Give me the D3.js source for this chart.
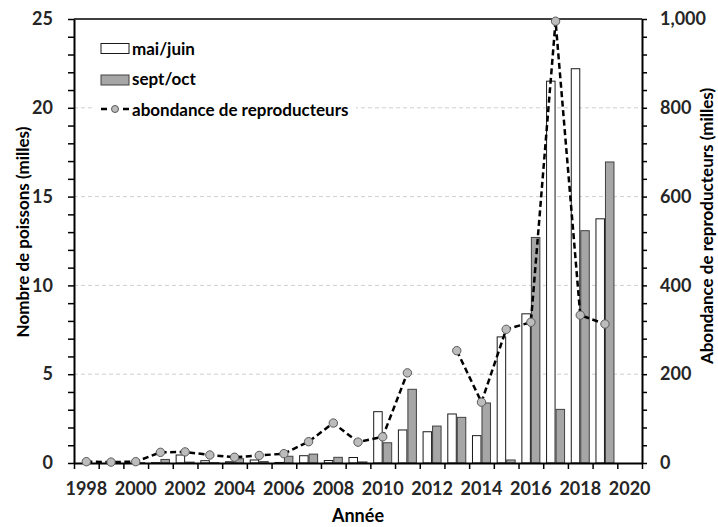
<!DOCTYPE html>
<html>
<head>
<meta charset="utf-8">
<script src="https://cdn.jsdelivr.net/npm/d3@7"></script>
<style>
  html, body { margin: 0; padding: 0; background: #fff; }
  svg { display: block; font-family: Lato, 'Open Sans', sans-serif; font-weight: bold; }
</style>
</head>
<body>
<svg id="chart" width="718" height="527"></svg>
<script>
(function (d3) {
  'use strict';

  // categories (2020 is an empty slot on the axis)
  var years = d3.range(1998, 2021);
  var seriesNames = ['mai/juin', 'sept/oct', 'abondance de reproducteurs'];

  // thousands of fish, 1998..2019
  var maiJuin = [0, 0, 0, 0.02, 0.45, 0.13, 0.07, 0.17, 0.03, 0.41, 0.14, 0.31,
    2.89, 1.86, 1.76, 2.76, 1.54, 7.1, 8.4, 21.5, 22.2, 13.75];
  var septOct = [0, 0.02, 0.02, 0.2, 0.05, 0.02, 0.24, 0.08, 0.38, 0.5, 0.32, 0.06,
    1.14, 4.15, 2.08, 2.57, 3.38, 0.17, 12.7, 3.02, 13.08, 16.95];
  // spawner abundance (thousands), right axis; 2012 missing
  var reproducteurs = [3, 2, 3, 24, 25, 18, 13, 17, 21, 48, 90, 47,
    59, 203, null, 253, 137, 301, 317, 995, 333, 313];

  var leftTicks = [0, 5, 10, 15, 20, 25];
  var rightTicks = [0, 200, 400, 600, 800, 1000];
  var labelYears = years.filter(function (y) { return y % 2 === 0; });

  var svg = d3.select('#chart'),
    left = 74,
    right = 642,
    top = 19,
    bottom = 463,
    tickFont = 18,
    titleFont = 17;

  var x = d3.scaleBand().domain(years).range([left, right]).padding(0),
    xInner = d3.scaleBand().domain([0, 1]).range([0, x.bandwidth()])
      .paddingInner(0).paddingOuter(0.3),
    xEdge = d3.scaleLinear().domain([0, years.length]).range([left, right]),
    yL = d3.scaleLinear().domain([0, 25]).range([bottom, top]),
    yR = d3.scaleLinear().domain([0, 1000]).range([bottom, top]);

  function styleText(g) {
    g.selectAll('text').attr('font-size', tickFont).attr('font-weight', 'bold')
      .attr('font-family', 'Lato, sans-serif').attr('fill', '#262626');
  }

  // gridlines
  svg.append('g')
    .selectAll('line')
    .data(leftTicks.slice(1, -1))
    .enter().append('line')
    .attr('x1', left).attr('x2', right)
    .attr('y1', function (d) { return yL(d); })
    .attr('y2', function (d) { return yL(d); })
    .attr('stroke', '#cfcfcf')
    .attr('stroke-width', 1)
    .attr('stroke-dasharray', '4,3');

  // bars
  var rows = maiJuin.map(function (v, i) {
    return { year: years[i], vals: [v, septOct[i]] };
  });

  var groups = svg.append('g').selectAll('g')
    .data(rows)
    .enter().append('g')
    .attr('transform', function (d) { return 'translate(' + x(d.year) + ',0)'; });

  groups.selectAll('rect')
    .data(function (d) { return d.vals; })
    .enter().append('rect')
    .attr('x', function (d, i) { return xInner(i) + 0.5; })
    .attr('width', xInner.bandwidth() - 1)
    .attr('y', function (d) { return yL(d); })
    .attr('height', function (d) { return bottom - yL(d); })
    .attr('fill', function (d, i) { return i === 0 ? '#ffffff' : '#a6a6a6'; })
    .attr('stroke', function (d, i) { return i === 0 ? '#1a1a1a' : '#404040'; })
    .attr('stroke-width', function (d) { return d > 0.01 ? 1 : 0; });

  // top frame
  svg.append('line')
    .attr('x1', left).attr('x2', right)
    .attr('y1', top).attr('y2', top)
    .attr('stroke', '#000').attr('stroke-width', 1.5);

  // x axis: ticks between categories, labels every other year
  svg.append('g')
    .attr('transform', 'translate(0,' + bottom + ')')
    .call(d3.axisBottom(xEdge).tickValues(d3.range(years.length + 1)).tickSize(6)
      .tickSizeOuter(0).tickFormat(''))
    .call(function (g) {
      g.select('.domain').attr('stroke-width', 2);
      g.selectAll('.tick line').attr('stroke-width', 1.5);
    });

  svg.append('g')
    .attr('transform', 'translate(0,' + bottom + ')')
    .call(d3.axisBottom(x).tickValues(labelYears).tickSize(0).tickPadding(19))
    .call(function (g) {
      g.select('.domain').remove();
      styleText(g);
    });

  // left axis
  svg.append('g')
    .attr('transform', 'translate(' + left + ',0)')
    .call(d3.axisLeft(yL).tickValues(d3.range(0, 26)).tickSize(6).tickSizeOuter(0).tickPadding(15)
      .tickFormat(function (d) { return d % 5 === 0 ? d : ''; }))
    .call(function (g) {
      g.select('.domain').attr('stroke-width', 2);
      g.selectAll('.tick line').attr('stroke-width', 1.5);
      styleText(g);
    });

  // right axis
  svg.append('g')
    .attr('transform', 'translate(' + right + ',0)')
    .call(d3.axisRight(yR).tickValues(d3.range(0, 1001, 40)).tickSize(5).tickSizeOuter(0).tickPadding(13)
      .tickFormat(function (d) { return rightTicks.indexOf(d) >= 0 ? d3.format(',')(d) : ''; }))
    .call(function (g) {
      g.select('.domain').attr('stroke-width', 2);
      g.selectAll('.tick line').attr('stroke-width', 1.5);
      styleText(g);
    });

  // spawner line
  var pts = reproducteurs.map(function (v, i) { return { year: years[i], v: v }; });
  var line = d3.line()
    .defined(function (d) { return d.v !== null; })
    .x(function (d) { return x(d.year) + x.bandwidth() / 2; })
    .y(function (d) { return yR(d.v); });

  svg.append('path')
    .datum(pts)
    .attr('d', line)
    .attr('fill', 'none')
    .attr('stroke', '#000')
    .attr('stroke-width', 2.5)
    .attr('stroke-dasharray', '6,3.5');

  svg.append('g').selectAll('circle')
    .data(pts.filter(function (d) { return d.v !== null; }))
    .enter().append('circle')
    .attr('cx', function (d) { return x(d.year) + x.bandwidth() / 2; })
    .attr('cy', function (d) { return yR(d.v); })
    .attr('r', 4.2)
    .attr('fill', '#bcbcbc')
    .attr('stroke', '#595959')
    .attr('stroke-width', 1);

  // legend
  var legend = svg.append('g');
  legend.append('rect')
    .attr('x', 94).attr('y', 30).attr('width', 262).attr('height', 90)
    .attr('fill', '#fff');

  legend.append('rect')
    .attr('x', 101).attr('y', 43.5).attr('width', 28).attr('height', 10)
    .attr('fill', '#fff').attr('stroke', '#1a1a1a');
  legend.append('rect')
    .attr('x', 101).attr('y', 75).attr('width', 28).attr('height', 10)
    .attr('fill', '#a6a6a6').attr('stroke', '#404040');
  legend.append('line')
    .attr('x1', 101).attr('x2', 129).attr('y1', 109).attr('y2', 109)
    .attr('stroke', '#000').attr('stroke-width', 2.5).attr('stroke-dasharray', '6,16');
  legend.append('circle')
    .attr('cx', 115).attr('cy', 109).attr('r', 3.5)
    .attr('fill', '#bcbcbc').attr('stroke', '#595959');

  legend.selectAll('text')
    .data(seriesNames)
    .enter().append('text')
    .attr('x', 132)
    .attr('y', function (d, i) { return 54.5 + i * 30.5; })
    .attr('font-size', 17)
    .attr('fill', '#000')
    .text(function (d) { return d; });

  // axis titles
  svg.append('text')
    .attr('transform', 'translate(29,' + 232 + ') rotate(-90)')
    .attr('text-anchor', 'middle')
    .attr('font-size', titleFont)
    .attr('fill', '#000')
    .text('Nombre de poissons (milles)');

  svg.append('text')
    .attr('transform', 'translate(713,' + 226 + ') rotate(-90)')
    .attr('text-anchor', 'middle')
    .attr('font-size', titleFont)
    .attr('fill', '#000')
    .text('Abondance de reproducteurs (milles)');

  svg.append('text')
    .attr('x', (left + right) / 2)
    .attr('y', 522)
    .attr('text-anchor', 'middle')
    .attr('font-size', 18)
    .attr('fill', '#000')
    .text('Année');
})(d3);
</script>
</body>
</html>
